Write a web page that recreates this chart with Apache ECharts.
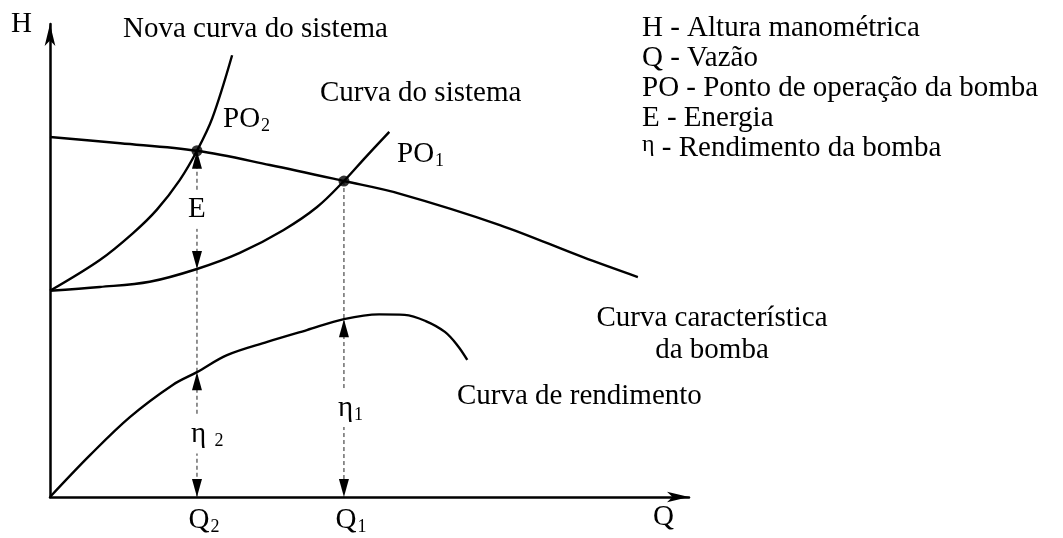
<!DOCTYPE html>
<html>
<head>
<meta charset="utf-8">
<script src="https://cdn.jsdelivr.net/npm/echarts@6/dist/echarts.min.js"></script>
<style>
  html, body { margin: 0; padding: 0; background: #fff; }
  #chart { width: 1063px; height: 538px; }
</style>
</head>
<body>
<div id="chart"></div>
<script>
// Schematic pump diagram: flow Q (horizontal) vs head H (vertical), both on a 0–100 scale.
const pumpCurve = [[0, 76.1], [11.0, 74.8], [23.0, 73.2], [34.4, 70.2], [46.0, 66.8], [54.8, 64.1], [70.4, 57.5], [83.4, 50.7], [92.0, 46.5]];
const systemCurve = [[0, 43.6], [7.8, 44.4], [15.6, 45.5], [23.0, 48.2], [29.7, 51.6], [36.5, 56.4], [41.8, 61.3], [46.0, 66.8], [49.3, 71.7], [53.1, 77.2]];
const newSystemCurve = [[0, 43.6], [7.8, 50.1], [13.0, 55.8], [16.7, 60.7], [20.3, 67.0], [23.0, 73.2], [25.4, 80.1], [28.5, 93.4]];
const efficiencyCurve = [[0, 0], [6.3, 8.9], [12.5, 16.9], [19.2, 23.7], [23.0, 26.4], [27.7, 30.0], [34.0, 32.8], [40.2, 35.3], [46.0, 37.6], [51.5, 38.6], [55.5, 38.5], [58.8, 37.2], [61.8, 34.9], [63.8, 32.0], [65.3, 29.0]];

// Operating points PO2 and PO1 (Q, H)
const operatingPoints = [[23.0, 73.2], [46.0, 66.8]];

// Double-headed dimension arrows: [Q, upper value, lower value]
const dimensionSpans = [[23.0, 73.2, 48.2], [23.0, 26.4, 0], [46.0, 37.6, 0]];
const dimensionNames = ['E', 'η {s|2}', 'η{s|1}'];

// Q-axis ticks and their subscripts
const qTicks = [23.0, 46.0];
const qTickSubs = ['2', '1'];

// Key in the upper right
const legendLines = ['H - Altura manométrica', 'Q - Vazão', 'PO - Ponto de operação da bomba', 'E - Energia', '{g|η} - Rendimento da bomba'];

const FONT = '"Liberation Serif", "Times New Roman", serif';
const FS = 29;
const LH = 30;
// subscript: smaller digits pushed below the baseline by top padding
const subRich = { s: { fontSize: 18, fontFamily: FONT, lineHeight: 16, padding: [14, 0, 0, 1] } };

const chart = echarts.init(document.getElementById('chart'), null, { renderer: 'canvas' });

function curve(data) {
  return {
    type: 'line', data: data, smooth: 0.35, showSymbol: false, silent: true,
    lineStyle: { color: '#000', width: 2.4 }, z: 3
  };
}

function guide(point) {
  return {
    type: 'line', data: [point, [point[0], 0]], showSymbol: false, silent: true,
    lineStyle: { color: '#222', width: 1, type: [4, 3] }, z: 2
  };
}

function label(text, x, y, align) {
  return {
    type: 'text', x: x, y: y,
    style: {
      text: text, fontSize: FS, fontFamily: FONT, fill: '#000', lineHeight: LH,
      align: align || 'left', verticalAlign: 'middle', rich: subRich
    }
  };
}

const graphics = [
  label('Nova curva do sistema', 123, 29),
  label('Curva do sistema', 320, 93),
  label('PO{s|2}', 223, 119),
  label('PO{s|1}', 397, 154),
  label('Curva característica', 712, 318, 'center'),
  label('da bomba', 712, 350, 'center'),
  label('Curva de rendimento', 457, 396)
];
legendLines.forEach(function (line, i) {
  graphics.push({
    type: 'text', x: 642, y: 28 + i * 30,
    style: {
      text: line, fontSize: FS, fontFamily: FONT, fill: '#000', lineHeight: LH, verticalAlign: 'middle',
      rich: { g: { fontSize: 24, fontFamily: FONT, verticalAlign: 'top', lineHeight: 26 } }
    }
  });
});

const option = {
  animation: false,
  backgroundColor: '#fff',
  grid: { left: 50, right: 374, top: 24, bottom: 41, containLabel: false },
  xAxis: {
    type: 'value', min: 0, max: 100,
    name: 'Q', nameLocation: 'end', nameGap: -36,
    nameTextStyle: { fontSize: FS, fontFamily: FONT, color: '#000', align: 'left', verticalAlign: 'top', padding: [6, 0, 0, 0] },
    axisLine: { show: true, lineStyle: { color: '#000', width: 2.5 }, symbol: ['none', 'arrow'], symbolSize: [8, 22] },
    axisTick: { show: false },
    splitLine: { show: false },
    axisLabel: {
      customValues: qTicks, margin: 8, lineHeight: LH,
      fontSize: FS, fontFamily: FONT, color: '#000', padding: [0, 0, 0, 14],
      formatter: function (v) {
        const i = qTicks.indexOf(v);
        return 'Q{s|' + (i >= 0 ? qTickSubs[i] : '') + '}';
      },
      rich: subRich
    }
  },
  yAxis: {
    type: 'value', min: 0, max: 100,
    name: 'H', nameLocation: 'end', nameGap: 0,
    nameTextStyle: { fontSize: FS, fontFamily: FONT, color: '#000', align: 'right', verticalAlign: 'middle', padding: [0, 18, 0, 0] },
    axisLine: { show: true, lineStyle: { color: '#000', width: 2.5 }, symbol: ['none', 'arrow'], symbolSize: [8, 22] },
    axisTick: { show: false },
    axisLabel: { show: false },
    splitLine: { show: false }
  },
  series: [
    guide(operatingPoints[0]),
    guide(operatingPoints[1]),
    curve(pumpCurve),
    curve(systemCurve),
    curve(newSystemCurve),
    curve(efficiencyCurve),
    {
      type: 'scatter', data: operatingPoints, symbol: 'circle', symbolSize: 11, silent: true,
      itemStyle: { color: '#000' }, z: 5
    },
    {
      type: 'custom', data: dimensionSpans, silent: true, z: 4,
      renderItem: function (params, api) {
        const q = api.value(0);
        const top = api.coord([q, api.value(1)]);
        const bot = api.coord([q, api.value(2)]);
        const mid = api.coord([q, (api.value(1) + api.value(2)) / 2]);
        const x = top[0];
        const L = 18, W = 5;
        const name = dimensionNames[params.dataIndex];
        const isEta = name.charAt(0) === 'η';
        return {
          type: 'group',
          children: [
            { type: 'polygon', shape: { points: [[x, top[1]], [x - W, top[1] + L], [x + W, top[1] + L]] }, style: { fill: '#000' } },
            { type: 'polygon', shape: { points: [[x, bot[1]], [x - W, bot[1] - L], [x + W, bot[1] - L]] }, style: { fill: '#000' } },
            {
              type: 'text', x: isEta ? x - 8 : x, y: mid[1],
              style: {
                text: name, fontSize: FS, fontFamily: FONT, fill: '#000', lineHeight: LH,
                align: isEta ? 'left' : 'center', verticalAlign: 'middle',
                backgroundColor: '#fff', padding: [4, 2, 4, 2], rich: subRich
              }
            }
          ]
        };
      }
    }
  ],
  graphic: graphics
};

chart.setOption(option);
</script>
</body>
</html>
